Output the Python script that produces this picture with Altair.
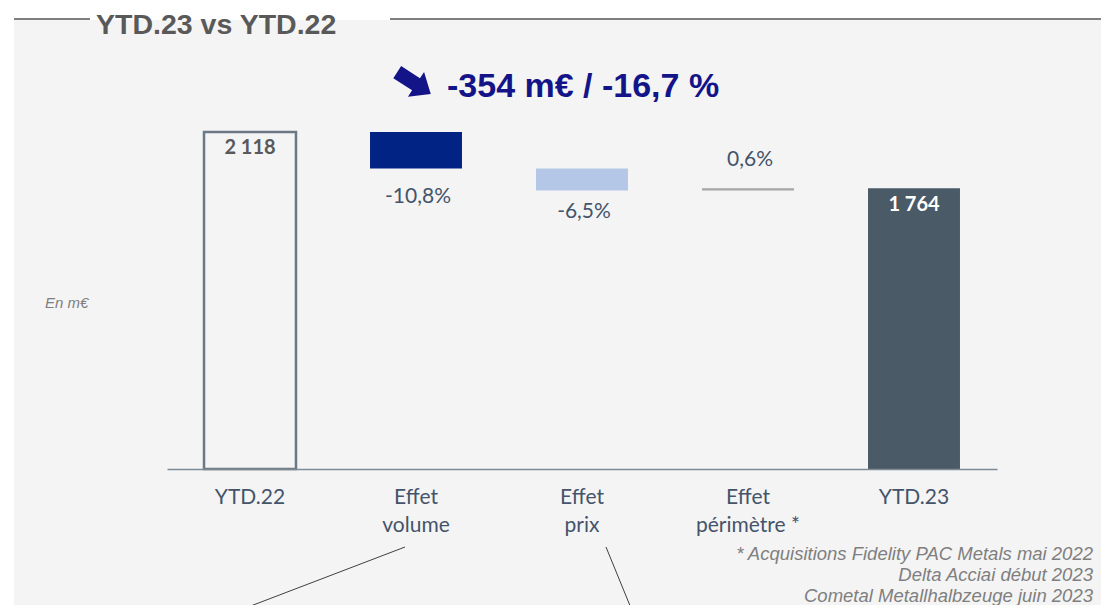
import altair as alt
import pandas as pd

# ---- data -------------------------------------------------------------
categories = ["YTD.22", "Effet|volume", "Effet|prix", "Effet|périmètre *", "YTD.23"]
amounts = [2118, -229, -138, 13, 1764]
is_total = [True, False, False, False, True]
value_labels = ["2 118", "-10,8%", "-6,5%", "0,6%", "1 764"]

title_text = "YTD.23 vs YTD.22"
headline = "-354 m€ / -16,7 %"
unit_note = "En m€"
footnote = [
    "* Acquisitions Fidelity PAC Metals mai 2022",
    "Delta Acciai début 2023",
    "Cometal Metallhalbzeuge juin 2023",
]

rows = []
running = 0
for cat, amt, tot, lab in zip(categories, amounts, is_total, value_labels):
    if tot:
        start, end = 0, amt
    else:
        start, end = running, running + amt
    running = end
    rows.append(dict(cat=cat, start=start, end=end, lo=min(start, end),
                     hi=max(start, end), label=lab, total=tot,
                     up=end > start))
df = pd.DataFrame(rows)

# ---- styling ----------------------------------------------------------
SLATE = "#44546a"
GREY = "#7f7f7f"
NAVY_TXT = "#141489"

one = alt.Data(values=[{}])

x_enc = alt.X(
    "cat:N", sort=categories,
    scale=alt.Scale(paddingInner=0.446, paddingOuter=0.223),
    axis=alt.Axis(title=None, labelExpr="split(datum.label, '|')", labelAngle=0,
                  ticks=False, domainColor="#7f8a94", domainWidth=1.5,
                  labelFont="Lato", labelFontSize=21, labelColor=SLATE,
                  labelLineHeight=28, labelPadding=17, labelBaseline="top",
                  zindex=1),
)
y_scale = alt.Scale(domain=[0, 2822], nice=False, zero=True)

base = alt.Chart(df).encode(x=x_enc)

# background panel
panel = alt.Chart(one).mark_rect(color="#f4f4f4").encode(
    x=alt.value(-153), x2=alt.value(937), y=alt.value(0), y2=alt.value(589))

def hrule(x1, x2, y):
    return alt.Chart(one).mark_rule(color=GREY, strokeWidth=2).encode(
        x=alt.value(x1), x2=alt.value(x2), y=alt.value(y))

def slant(x1, y1, x2, y2):
    return alt.Chart(one).mark_rule(color="#404040", strokeWidth=1).encode(
        x=alt.value(x1), y=alt.value(y1), x2=alt.value(x2), y2=alt.value(y2))

title = alt.Chart(one).mark_text(
    text=title_text, align="left", baseline="alphabetic", font="Liberation Sans",
    fontWeight="bold", fontSize=28.5, color="#595959"
).encode(x=alt.value(-71), y=alt.value(13.5))

arrow_path = "M-1,-0.36 L0.12,-0.36 L0.12,-0.74 L1,0 L0.12,0.74 L0.12,0.36 L-1,0.36 Z"
arrow = alt.Chart(one).mark_point(
    shape=arrow_path, filled=True, size=1600, angle=33, color=NAVY_TXT,
    opacity=1, strokeWidth=0
).encode(x=alt.value(247), y=alt.value(63))

head = alt.Chart(one).mark_text(
    text=headline, align="left", baseline="alphabetic", font="Liberation Sans",
    fontWeight="bold", fontSize=34, color=NAVY_TXT
).encode(x=alt.value(280), y=alt.value(77))

unit = alt.Chart(one).mark_text(
    text=unit_note, align="left", baseline="alphabetic", font="Liberation Sans",
    fontStyle="italic", fontSize=15, color=GREY
).encode(x=alt.value(-122), y=alt.value(288))

foot = alt.Chart(one).mark_text(
    text=footnote, align="right", baseline="alphabetic", font="Liberation Sans",
    fontStyle="italic", fontSize=18.5, lineHeight=21, color=GREY
).encode(x=alt.value(926), y=alt.value(540))

# bars
filled = base.transform_filter(f"datum.cat != '{categories[0]}'").mark_bar().encode(
    y=alt.Y("start:Q", scale=y_scale, axis=None), y2="end:Q",
    color=alt.Color("cat:N", scale=alt.Scale(
        domain=categories[1:], range=["#002384", "#b4c7e7", "#a6a6a6", "#4a5a67"]),
        legend=None),
)
outline = base.transform_filter(f"datum.cat == '{categories[0]}'").mark_bar(
    fill="#f4f4f4", fillOpacity=0, stroke="#6b7885", strokeWidth=2.5
).encode(y=alt.Y("start:Q", scale=y_scale, axis=None), y2="end:Q")

tot_first = base.transform_filter(f"datum.cat == '{categories[0]}'").mark_text(
    font="Lato", fontWeight="bold", fontSize=20, baseline="middle", dy=16,
    color="#595959"
).encode(y=alt.Y("end:Q", scale=y_scale, axis=None), text="label:N")
tot_last = base.transform_filter(f"datum.cat == '{categories[-1]}'").mark_text(
    font="Lato", fontWeight="bold", fontSize=20, baseline="middle", dy=17,
    color="#ffffff"
).encode(y=alt.Y("end:Q", scale=y_scale, axis=None), text="label:N")

vol_lab = base.transform_filter(f"datum.cat == '{categories[1]}'").mark_text(
    font="Lato", fontSize=21, baseline="middle", dy=29, dx=2, color=SLATE
).encode(y=alt.Y("lo:Q", scale=y_scale, axis=None), text="label:N")
prix_lab = base.transform_filter(f"datum.cat == '{categories[2]}'").mark_text(
    font="Lato", fontSize=21, baseline="middle", dy=22, dx=2, color=SLATE
).encode(y=alt.Y("lo:Q", scale=y_scale, axis=None), text="label:N")
pos_lab = base.transform_filter("!datum.total && datum.up").mark_text(
    font="Lato", fontSize=21, baseline="middle", dy=-28, dx=2, color=SLATE
).encode(y=alt.Y("hi:Q", scale=y_scale, axis=None), text="label:N")

chart = alt.layer(
    panel, hrule(-153, -77, -1), hrule(223, 937, -1), title, arrow, head, unit,
    filled, outline, tot_first, tot_last, vol_lab, prix_lab, pos_lab, foot,
    slant(238, 527, 68, 592), slant(439, 527, 466, 593),
).properties(
    width=830, height=449,
    padding={"left": 159, "top": 12, "right": 104, "bottom": 136},
    autosize=alt.AutoSizeParams(type="none"),
    background="#ffffff",
).configure_view(stroke=None)

chart.save("out.html", embed_options={"renderer": "svg", "actions": False})
